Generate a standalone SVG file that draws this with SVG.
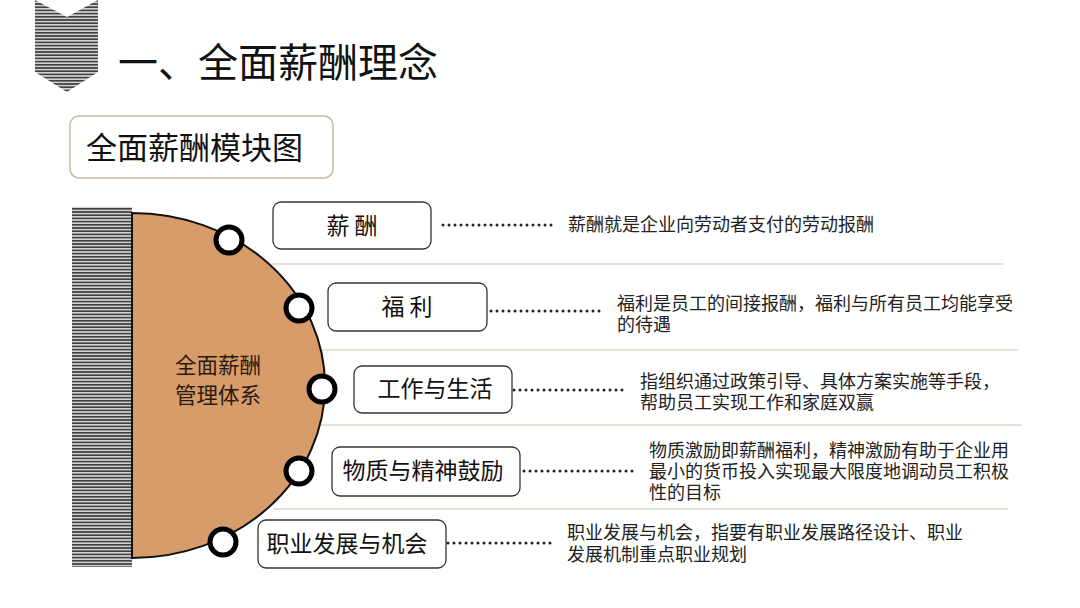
<svg xmlns="http://www.w3.org/2000/svg" width="1080" height="608" viewBox="0 0 1080 608">
<defs>
<pattern id="stripes" x="0" y="0" width="4" height="3.2" patternUnits="userSpaceOnUse">
<rect width="4" height="3.2" fill="#d0d0d0"/>
<rect width="4" height="1.6" fill="#404040"/>
</pattern>
<style>
.cjk{font-family:"Noto Sans CJK SC","Noto Sans CJK TC",sans-serif;}
.box{fill:#fff;stroke:#333;stroke-width:1.3;}
.bt{font-size:23px;fill:#111;}
.desc{font-size:18px;fill:#222;}
.dot{fill:#fff;stroke:#000;stroke-width:5;}
.sep{stroke:#dcd8cc;stroke-width:1.5;}
.dl{stroke:#222;stroke-width:3;stroke-linecap:round;stroke-dasharray:0 6;fill:none;}
</style>
</defs>
<rect width="1080" height="608" fill="#fff"/>
<g id="header">
<polygon points="35,0 67,17 98,0 98,72 67,92 35,72" fill="url(#stripes)"/>
<text class="cjk" x="118" y="77" font-size="40" fill="#111">一、全面薪酬理念</text>
</g>
<g id="subtitle">
<rect x="70" y="116" width="263" height="62" rx="9" fill="#fff" stroke="#c8b9a6" stroke-width="1.5"/>
<text class="cjk" x="86" y="159" font-size="31" fill="#111">全面薪酬模块图</text>
</g>
<g id="separators">
<line class="sep" x1="272" y1="264" x2="1003" y2="264"/>
<line class="sep" x1="322" y1="350" x2="1018" y2="350"/>
<line class="sep" x1="318" y1="425" x2="1022" y2="425"/>
<line class="sep" x1="273" y1="509" x2="1008" y2="509"/>
</g>
<g id="core">
<rect x="72" y="207" width="60" height="360" fill="url(#stripes)"/>
<path d="M132,213 A193,172.5 0 0 1 132,558 Z" fill="#d89c6b" stroke="#111" stroke-width="2"/>
<text class="cjk" x="218" y="373" font-size="21.5" fill="#2a1a0e" text-anchor="middle">全面薪酬</text>
<text class="cjk" x="218" y="403" font-size="21.5" fill="#2a1a0e" text-anchor="middle">管理体系</text>
</g>
<g id="connectors">
<line class="dl" x1="443" y1="225" x2="553" y2="225"/>
<line class="dl" x1="491" y1="311" x2="602" y2="311"/>
<line class="dl" x1="514" y1="390" x2="623" y2="390"/>
<line class="dl" x1="524" y1="471" x2="633" y2="471"/>
<line class="dl" x1="448" y1="543" x2="551" y2="543"/>
</g>
<g id="dots">
<circle class="dot" cx="229" cy="240" r="13"/>
<circle class="dot" cx="299" cy="308" r="13"/>
<circle class="dot" cx="322" cy="389" r="13"/>
<circle class="dot" cx="299" cy="471" r="13"/>
<circle class="dot" cx="223" cy="542" r="13"/>
</g>
<g id="node-xinchou">
<rect class="box" x="273" y="202" width="158" height="47" rx="8"/>
<text class="cjk bt" x="352" y="234" text-anchor="middle">薪 酬</text>
<text class="cjk desc" x="568" y="231">薪酬就是企业向劳动者支付的劳动报酬</text>
</g>
<g id="node-fuli">
<rect class="box" x="328" y="283" width="159" height="48" rx="8"/>
<text class="cjk bt" x="407" y="315" text-anchor="middle">福 利</text>
<text class="cjk desc" x="617" y="310">福利是员工的间接报酬，福利与所有员工均能享受</text>
<text class="cjk desc" x="617" y="331">的待遇</text>
</g>
<g id="node-gongzuo">
<rect class="box" x="354" y="366" width="158" height="47" rx="8"/>
<text class="cjk bt" x="435" y="397" text-anchor="middle">工作与生活</text>
<text class="cjk desc" x="640" y="388">指组织通过政策引导、具体方案实施等手段，</text>
<text class="cjk desc" x="640" y="409">帮助员工实现工作和家庭双赢</text>
</g>
<g id="node-wuzhi">
<rect class="box" x="332" y="447" width="188" height="49" rx="8"/>
<text class="cjk bt" x="423" y="479" text-anchor="middle">物质与精神鼓励</text>
<text class="cjk desc" x="649" y="457">物质激励即薪酬福利，精神激励有助于企业用</text>
<text class="cjk desc" x="649" y="478">最小的货币投入实现最大限度地调动员工积极</text>
<text class="cjk desc" x="649" y="499">性的目标</text>
</g>
<g id="node-zhiye">
<rect class="box" x="258" y="520" width="188" height="48" rx="8"/>
<text class="cjk bt" x="347" y="552" text-anchor="middle">职业发展与机会</text>
<text class="cjk desc" x="567" y="539">职业发展与机会，指要有职业发展路径设计、职业</text>
<text class="cjk desc" x="567" y="561">发展机制重点职业规划</text>
</g>
</svg>
